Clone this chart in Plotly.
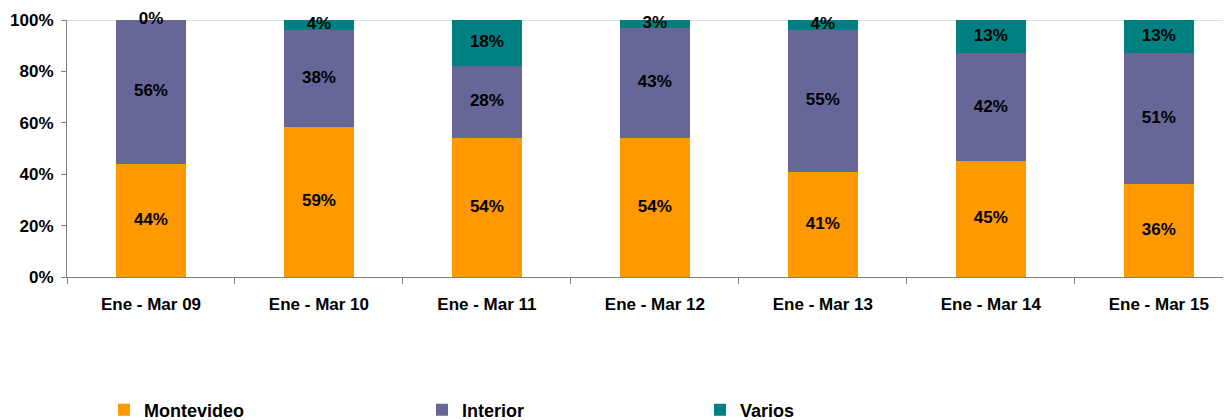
import numpy as np
import plotly.graph_objects as go

categories = ["Ene - Mar 09", "Ene - Mar 10", "Ene - Mar 11", "Ene - Mar 12",
              "Ene - Mar 13", "Ene - Mar 14", "Ene - Mar 15"]
montevideo = [44, 59, 54, 54, 41, 45, 36]
interior = [56, 38, 28, 43, 55, 42, 51]
varios = [0, 4, 18, 3, 4, 13, 13]
y_ticks = [0, 20, 40, 60, 80, 100]
y_tick_labels = [f"{v}%" for v in y_ticks]

series = [("Montevideo", montevideo, "#FF9900", "legend"),
          ("Interior", interior, "#666699", "legend2"),
          ("Varios", varios, "#008080", "legend3")]

FONT = "Liberation Sans, Arial, sans-serif"
W, H = 1223, 412          # page body adds an 8px margin
L, T, B = 59, 12, 143

fig = go.Figure()
for name, vals, col, lg in series:
    fig.add_trace(go.Bar(x=categories, y=vals, name=name, marker_color=col,
                         marker_line_width=0, width=0.42, legend=lg,
                         hoverinfo="skip"))

# labels at segment midpoints (normalised to 100%)
arr = np.array([s[1] for s in series], dtype=float)
tot = arr.sum(axis=0)
cum = np.cumsum(arr, axis=0) / tot * 100
mid = cum - arr / tot * 100 / 2
for i, (name, vals, col, lg) in enumerate(series):
    fig.add_trace(go.Scatter(x=categories, y=mid[i], mode="text",
                             text=[f"<b>{v}%</b>" for v in vals],
                             textfont=dict(family=FONT, size=17, color="black"),
                             showlegend=False, cliponaxis=False, hoverinfo="skip"))

fig.update_layout(
    barmode="stack", barnorm="percent",
    width=W, height=H,
    margin=dict(l=L, r=0, t=T, b=B, autoexpand=False),
    plot_bgcolor="white", paper_bgcolor="white",
    font=dict(family=FONT, size=17, color="black"),
    xaxis=dict(range=[-0.5, 6.43], showline=True, linecolor="#808080", linewidth=1,
               ticks="outside", tickson="boundaries", ticklen=6, tickcolor="#808080",
               tickfont=dict(family=FONT, size=17, color="black", weight="bold"),
               ticklabelstandoff=12, showgrid=False, automargin=False),
    yaxis=dict(range=[0, 100], tickvals=y_ticks, ticktext=y_tick_labels,
               showline=True, linecolor="#808080", linewidth=1,
               ticks="outside", ticklen=5, tickcolor="#808080",
               tickfont=dict(family=FONT, size=17, color="black", weight="bold"),
               ticklabelstandoff=4,
               showgrid=False, zeroline=False, automargin=False),
    shapes=[dict(type="line", xref="paper", yref="y", x0=0, x1=1, y0=100, y1=100,
                 line=dict(color="#C0C0C0", width=1), layer="below")],
)
leg_common = dict(orientation="h", xref="container", yref="container",
                  yanchor="middle", xanchor="left", bgcolor="rgba(0,0,0,0)",
                  font=dict(family=FONT, size=18, color="black", weight="bold"),
                  itemwidth=30)
fig.update_layout(
    legend=dict(x=96 / W, y=1 - 402 / H, **leg_common),
    legend2=dict(x=414 / W, y=1 - 402 / H, **leg_common),
    legend3=dict(x=692 / W, y=1 - 402 / H, **leg_common),
)
fig.write_html("out.html")
